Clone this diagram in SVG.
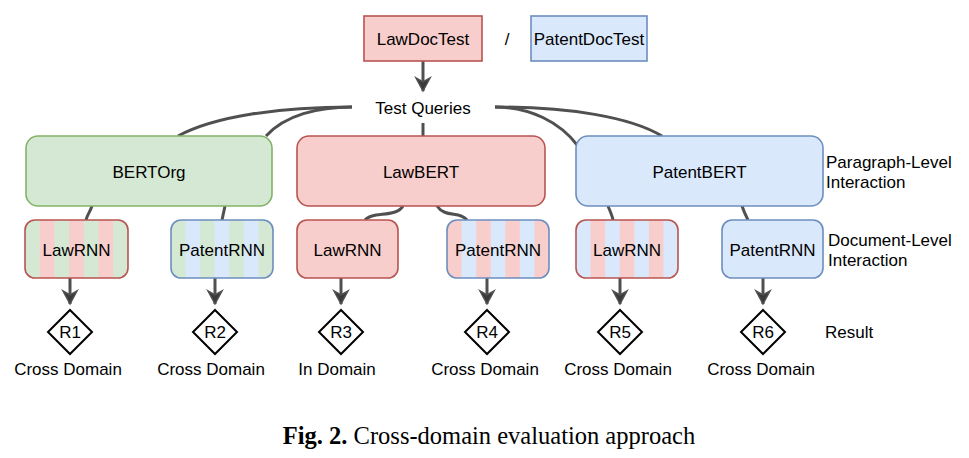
<svg xmlns="http://www.w3.org/2000/svg" width="969" height="458" viewBox="0 0 969 458">
<style>
text{font-family:"Liberation Sans",Arial,sans-serif;font-size:17px;fill:#000}
.c{text-anchor:middle}
.red{fill:#f8cecc;stroke:#b85450;stroke-width:1.6}
.blue{fill:#dae8fc;stroke:#6c8ebf;stroke-width:1.6}
.green{fill:#d5e8d4;stroke:#82b366;stroke-width:1.6}
.edge{fill:none;stroke:#505050;stroke-width:3}
.dia{fill:#fff;stroke:#000;stroke-width:2}
.cap{font-family:"Liberation Serif","Times New Roman",serif;font-size:24.5px}
</style>
<defs>
<pattern id="pGR" patternUnits="objectBoundingBox" patternContentUnits="objectBoundingBox" width="0.285714" height="1">
<rect width="0.142857" height="1" fill="#d5e8d4"/><rect x="0.142857" width="0.142857" height="1" fill="#f8cecc"/>
</pattern>
<pattern id="pGB" patternUnits="objectBoundingBox" patternContentUnits="objectBoundingBox" width="0.285714" height="1">
<rect width="0.142857" height="1" fill="#d5e8d4"/><rect x="0.142857" width="0.142857" height="1" fill="#dae8fc"/>
</pattern>
<pattern id="pRB" patternUnits="objectBoundingBox" patternContentUnits="objectBoundingBox" width="0.285714" height="1">
<rect width="0.142857" height="1" fill="#f8cecc"/><rect x="0.142857" width="0.142857" height="1" fill="#dae8fc"/>
</pattern>
<pattern id="pBR" patternUnits="objectBoundingBox" patternContentUnits="objectBoundingBox" width="0.285714" height="1">
<rect width="0.142857" height="1" fill="#dae8fc"/><rect x="0.142857" width="0.142857" height="1" fill="#f8cecc"/>
</pattern>
<marker id="arr" markerUnits="userSpaceOnUse" viewBox="-9 -15 18 16" refX="0" refY="0" markerWidth="18" markerHeight="16" orient="auto-start-reverse" overflow="visible">
<path d="M0,0 L-7,-13 L0,-9 L7,-13 Z" fill="#3a3a3a" stroke="#505050" stroke-width="1.5" stroke-linejoin="miter" transform="rotate(-90)"/>
</marker>
</defs>

<g id="connectors">
<path class="edge" d="M423,61 L423,91" marker-end="url(#arr)"/>
<path class="edge" d="M352,107 C280,107 215,116 178,136"/>
<path class="edge" d="M352,107 C318,107 285,115 266,136"/>
<path class="edge" d="M423,123 L423,136"/>
<path class="edge" d="M495,107 C570,107 630,117 662,136"/>
<path class="edge" d="M495,107 C530,107 560,122 578,146"/>
<path class="edge" d="M92,206 C90,212 87,215 86,220"/>
<path class="edge" d="M225,206 L222,220"/>
<path class="edge" d="M403,206 C396,218 372,211 365,220"/>
<path class="edge" d="M437,206 C445,218 460,211 467,220"/>
<path class="edge" d="M608,206 C610,211 612,215 613,220"/>
<path class="edge" d="M742,206 C744,212 746,216 748,220"/>
<path class="edge" d="M70,278 L70,304" marker-end="url(#arr)"/>
<path class="edge" d="M215,278 L215,304" marker-end="url(#arr)"/>
<path class="edge" d="M341,278 L341,304" marker-end="url(#arr)"/>
<path class="edge" d="M487,278 L487,304" marker-end="url(#arr)"/>
<path class="edge" d="M620,278 L620,304" marker-end="url(#arr)"/>
<path class="edge" d="M763,278 L763,304" marker-end="url(#arr)"/>
</g>

<g id="lawdoctest"><rect class="red" x="364" y="16" width="118" height="45"/><text class="c" x="423" y="44.5">LawDocTest</text></g>
<g id="slash"><text class="c" x="507" y="44.5">/</text></g>
<g id="patentdoctest"><rect class="blue" x="531" y="16" width="116" height="45"/><text class="c" x="589" y="44.5">PatentDocTest</text></g>
<g id="testqueries"><text class="c" x="423" y="114">Test Queries</text></g>

<g id="bertorg"><rect class="green" x="26" y="136" width="246" height="70" rx="12"/><text class="c" x="149" y="178">BERTOrg</text></g>
<g id="lawbert"><rect class="red" x="297" y="136" width="248" height="70" rx="12"/><text class="c" x="421" y="178">LawBERT</text></g>
<g id="patentbert"><rect class="blue" x="576" y="136" width="247" height="70" rx="12"/><text class="c" x="699.5" y="178">PatentBERT</text></g>

<g id="lawrnn1"><rect x="25" y="220" width="103" height="58" rx="10" fill="url(#pGR)" stroke="#b85450" stroke-width="1.6"/><text class="c" x="76.5" y="256">LawRNN</text></g>
<g id="patentrnn1"><rect x="171" y="220" width="102" height="58" rx="10" fill="url(#pGB)" stroke="#6c8ebf" stroke-width="1.6"/><text class="c" x="222" y="256">PatentRNN</text></g>
<g id="lawrnn2"><rect class="red" x="297" y="220" width="101" height="58" rx="10"/><text class="c" x="347.5" y="256">LawRNN</text></g>
<g id="patentrnn2"><rect x="447" y="220" width="102" height="58" rx="10" fill="url(#pRB)" stroke="#6c8ebf" stroke-width="1.6"/><text class="c" x="498" y="256">PatentRNN</text></g>
<g id="lawrnn3"><rect x="576" y="220" width="102" height="58" rx="10" fill="url(#pBR)" stroke="#b85450" stroke-width="1.6"/><text class="c" x="627" y="256">LawRNN</text></g>
<g id="patentrnn3"><rect class="blue" x="722" y="220" width="101" height="58" rx="10"/><text class="c" x="772.5" y="256">PatentRNN</text></g>

<g id="r1"><path class="dia" d="M70,310 L92,332 L70,354 L48,332 Z"/><text class="c" x="70" y="338">R1</text><text class="c" x="68" y="375">Cross Domain</text></g>
<g id="r2"><path class="dia" d="M215,310 L237,332 L215,354 L193,332 Z"/><text class="c" x="215" y="338">R2</text><text class="c" x="211" y="375">Cross Domain</text></g>
<g id="r3"><path class="dia" d="M341,310 L363,332 L341,354 L319,332 Z"/><text class="c" x="341" y="338">R3</text><text class="c" x="337" y="375">In Domain</text></g>
<g id="r4"><path class="dia" d="M487,310 L509,332 L487,354 L465,332 Z"/><text class="c" x="487" y="338">R4</text><text class="c" x="485" y="375">Cross Domain</text></g>
<g id="r5"><path class="dia" d="M620,310 L642,332 L620,354 L598,332 Z"/><text class="c" x="620" y="338">R5</text><text class="c" x="618" y="375">Cross Domain</text></g>
<g id="r6"><path class="dia" d="M763,310 L785,332 L763,354 L741,332 Z"/><text class="c" x="763" y="338">R6</text><text class="c" x="761" y="375">Cross Domain</text></g>

<g id="labels">
<text x="826" y="168">Paragraph-Level</text>
<text x="826" y="188">Interaction</text>
<text x="828" y="246">Document-Level</text>
<text x="828" y="266">Interaction</text>
<text x="825" y="338">Result</text>
</g>

<g id="caption"><text class="cap" x="489" y="444" text-anchor="middle"><tspan font-weight="bold">Fig. 2.</tspan> Cross-domain evaluation approach</text></g>
</svg>
